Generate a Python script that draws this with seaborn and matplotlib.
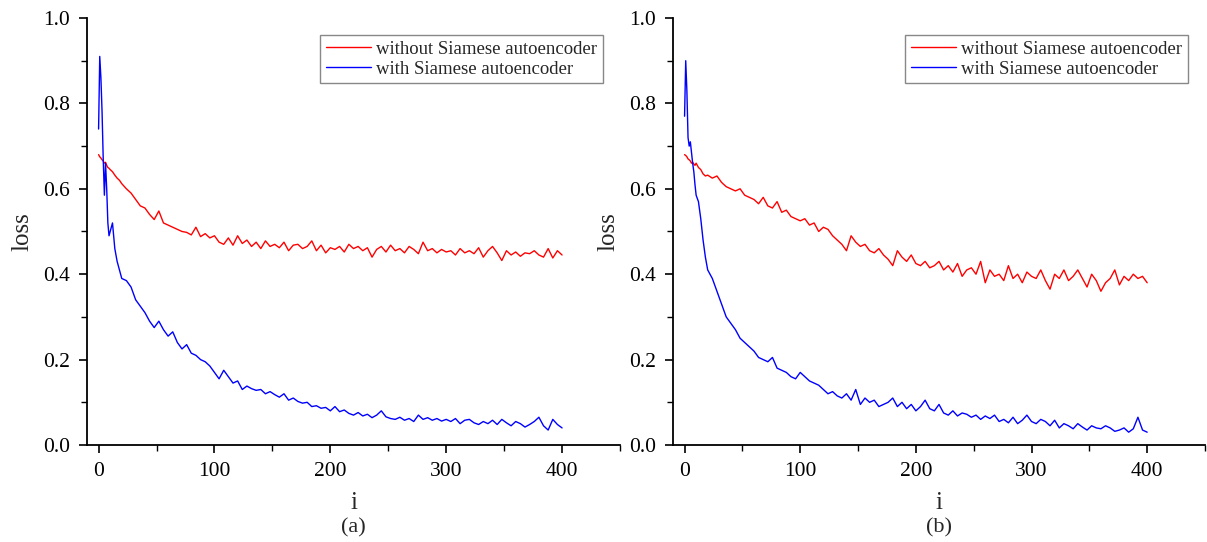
import numpy as np
import pandas as pd
import matplotlib
matplotlib.use("Agg")
import matplotlib.pyplot as plt
import seaborn as sns
from matplotlib.ticker import MultipleLocator

# ---------------- data ----------------
iters = list(range(0, 11)) + list(range(12, 21, 2)) + list(range(24, 401, 4))

a_without = [0.68, 0.675, 0.672, 0.668, 0.665, 0.66, 0.662, 0.655, 0.65, 0.648, 0.645,
             0.64, 0.632, 0.625, 0.62, 0.612,
             0.60, 0.59, 0.575, 0.56, 0.555, 0.54, 0.528, 0.548, 0.52, 0.515,
             0.51, 0.505, 0.50, 0.498, 0.492, 0.51, 0.488, 0.495, 0.485, 0.49,
             0.475, 0.47, 0.485, 0.468, 0.49, 0.472, 0.48, 0.465, 0.475, 0.46,
             0.478, 0.465, 0.47, 0.462, 0.475, 0.455, 0.468, 0.47, 0.46, 0.465,
             0.478, 0.455, 0.468, 0.45, 0.462, 0.458, 0.465, 0.452, 0.47, 0.46,
             0.465, 0.455, 0.462, 0.44, 0.458, 0.465, 0.452, 0.468, 0.455, 0.46,
             0.45, 0.465, 0.458, 0.448, 0.475, 0.455, 0.46, 0.45, 0.458, 0.452,
             0.455, 0.445, 0.46, 0.45, 0.455, 0.448, 0.462, 0.44, 0.455, 0.465,
             0.45, 0.432, 0.455, 0.445, 0.452, 0.442, 0.45, 0.448, 0.455, 0.445,
             0.44, 0.46, 0.438, 0.455, 0.445]

a_with = [0.74, 0.91, 0.86, 0.78, 0.67, 0.585, 0.66, 0.60, 0.52, 0.49, 0.50,
          0.52, 0.46, 0.43, 0.41, 0.39,
          0.385, 0.37, 0.34, 0.325, 0.31, 0.29, 0.275, 0.29, 0.27, 0.255,
          0.265, 0.24, 0.225, 0.235, 0.215, 0.21, 0.20, 0.195, 0.185, 0.17,
          0.155, 0.175, 0.16, 0.145, 0.15, 0.13, 0.138, 0.132, 0.128, 0.13,
          0.12, 0.125, 0.118, 0.112, 0.12, 0.105, 0.11, 0.102, 0.098, 0.10,
          0.09, 0.092, 0.086, 0.088, 0.08, 0.09, 0.078, 0.082, 0.074, 0.07,
          0.076, 0.068, 0.072, 0.064, 0.07, 0.08, 0.066, 0.062, 0.06, 0.065,
          0.058, 0.062, 0.055, 0.07, 0.06, 0.064, 0.058, 0.062, 0.056, 0.06,
          0.055, 0.062, 0.05, 0.058, 0.06, 0.052, 0.048, 0.055, 0.05, 0.058,
          0.048, 0.06, 0.052, 0.045, 0.055, 0.05, 0.042, 0.048, 0.055, 0.065,
          0.045, 0.035, 0.06, 0.048, 0.04]

b_without = [0.68, 0.678, 0.675, 0.67, 0.668, 0.665, 0.66, 0.662, 0.658, 0.655, 0.66,
             0.65, 0.645, 0.635, 0.63, 0.632,
             0.625, 0.63, 0.615, 0.605, 0.60, 0.595, 0.60, 0.585, 0.58, 0.575,
             0.565, 0.58, 0.56, 0.555, 0.57, 0.545, 0.55, 0.535, 0.53, 0.525,
             0.53, 0.515, 0.52, 0.50, 0.51, 0.505, 0.49, 0.48, 0.47, 0.455,
             0.49, 0.475, 0.465, 0.47, 0.455, 0.45, 0.46, 0.445, 0.435, 0.42,
             0.455, 0.44, 0.43, 0.445, 0.425, 0.42, 0.43, 0.415, 0.42, 0.43,
             0.41, 0.42, 0.405, 0.425, 0.395, 0.41, 0.415, 0.40, 0.43, 0.38,
             0.41, 0.395, 0.40, 0.385, 0.42, 0.39, 0.40, 0.38, 0.405, 0.395,
             0.39, 0.41, 0.385, 0.365, 0.40, 0.39, 0.41, 0.385, 0.395, 0.41,
             0.39, 0.37, 0.40, 0.385, 0.36, 0.38, 0.39, 0.41, 0.375, 0.395,
             0.385, 0.40, 0.39, 0.395, 0.38]

b_with = [0.77, 0.90, 0.83, 0.72, 0.70, 0.71, 0.685, 0.66, 0.64, 0.61, 0.585,
          0.57, 0.53, 0.48, 0.44, 0.41,
          0.39, 0.36, 0.33, 0.30, 0.285, 0.27, 0.25, 0.24, 0.23, 0.22,
          0.205, 0.20, 0.195, 0.205, 0.18, 0.175, 0.17, 0.16, 0.155, 0.17,
          0.16, 0.15, 0.145, 0.14, 0.13, 0.12, 0.125, 0.115, 0.11, 0.12,
          0.105, 0.13, 0.095, 0.11, 0.10, 0.105, 0.09, 0.095, 0.10, 0.11,
          0.09, 0.10, 0.085, 0.095, 0.08, 0.09, 0.105, 0.085, 0.08, 0.095,
          0.075, 0.07, 0.08, 0.068, 0.075, 0.072, 0.065, 0.07, 0.06, 0.068,
          0.062, 0.07, 0.055, 0.06, 0.052, 0.065, 0.05, 0.058, 0.07, 0.055,
          0.05, 0.06, 0.055, 0.045, 0.058, 0.04, 0.05, 0.045, 0.038, 0.05,
          0.042, 0.035, 0.045, 0.04, 0.038, 0.045, 0.04, 0.032, 0.035, 0.04,
          0.03, 0.038, 0.065, 0.035, 0.03]

series_names = ["without Siamese autoencoder", "with Siamese autoencoder"]
panel_labels = ["(a)", "(b)"]
xticks = [0, 100, 200, 300, 400]
yticks = [0.0, 0.2, 0.4, 0.6, 0.8, 1.0]

# ---------------- style ----------------
sns.set_style("ticks")
plt.rcParams["font.family"] = ["Liberation Serif", "DejaVu Serif"]

palette = {series_names[0]: "#ff0000", series_names[1]: "#0000ff"}

fig = plt.figure(figsize=(12.07, 5.42), dpi=100)
positions = [[87 / 1207, 97 / 542, 533 / 1207, 427 / 542],
             [673 / 1207, 97 / 542, 532 / 1207, 427 / 542]]

panels = [(a_without, a_with), (b_without, b_with)]

for k, (wo, wi) in enumerate(panels):
    ax = fig.add_axes(positions[k])
    df = pd.DataFrame({
        "i": iters + iters,
        "loss": wo + wi,
        "series": [series_names[0]] * len(iters) + [series_names[1]] * len(iters),
    })
    sns.lineplot(data=df, x="i", y="loss", hue="series", palette=palette,
                 hue_order=series_names, linewidth=1.0, ax=ax, estimator=None,
                 sort=False)
    ax.set_xlim(-10, 450)
    ax.set_ylim(0, 1.0)
    ax.set_xticks(xticks)
    ax.set_yticks(yticks)
    ax.set_yticklabels([f"{v:.1f}" for v in yticks])
    ax.xaxis.set_minor_locator(MultipleLocator(50))
    ax.yaxis.set_minor_locator(MultipleLocator(0.1))
    ax.tick_params(axis="both", which="major", direction="out", length=6,
                   width=1.2, labelsize=15.5, colors="black", pad=6)
    ax.tick_params(axis="both", which="minor", direction="out", length=4,
                   width=1.0, colors="black")
    for side in ["top", "right"]:
        ax.spines[side].set_visible(False)
    for side in ["left", "bottom"]:
        ax.spines[side].set_linewidth(1.3)
        ax.spines[side].set_color("black")
    ax.set_xlabel("i", fontsize=18, labelpad=8)
    ax.set_ylabel("loss", fontsize=18, labelpad=7)
    ax.text(0.5, -0.195, panel_labels[k], transform=ax.transAxes,
            ha="center", va="center", fontsize=16)
    leg = ax.legend(loc="upper right", bbox_to_anchor=(0.968, 0.96),
                    fontsize=13.5, frameon=True, fancybox=False,
                    handlelength=2.4, handletextpad=0.3, borderpad=0.3,
                    labelspacing=0.15, borderaxespad=0.0)
    leg.get_frame().set_edgecolor("#888888")
    leg.get_frame().set_linewidth(1.0)
    leg.get_frame().set_alpha(1.0)

fig.savefig("out.png", dpi=100)
